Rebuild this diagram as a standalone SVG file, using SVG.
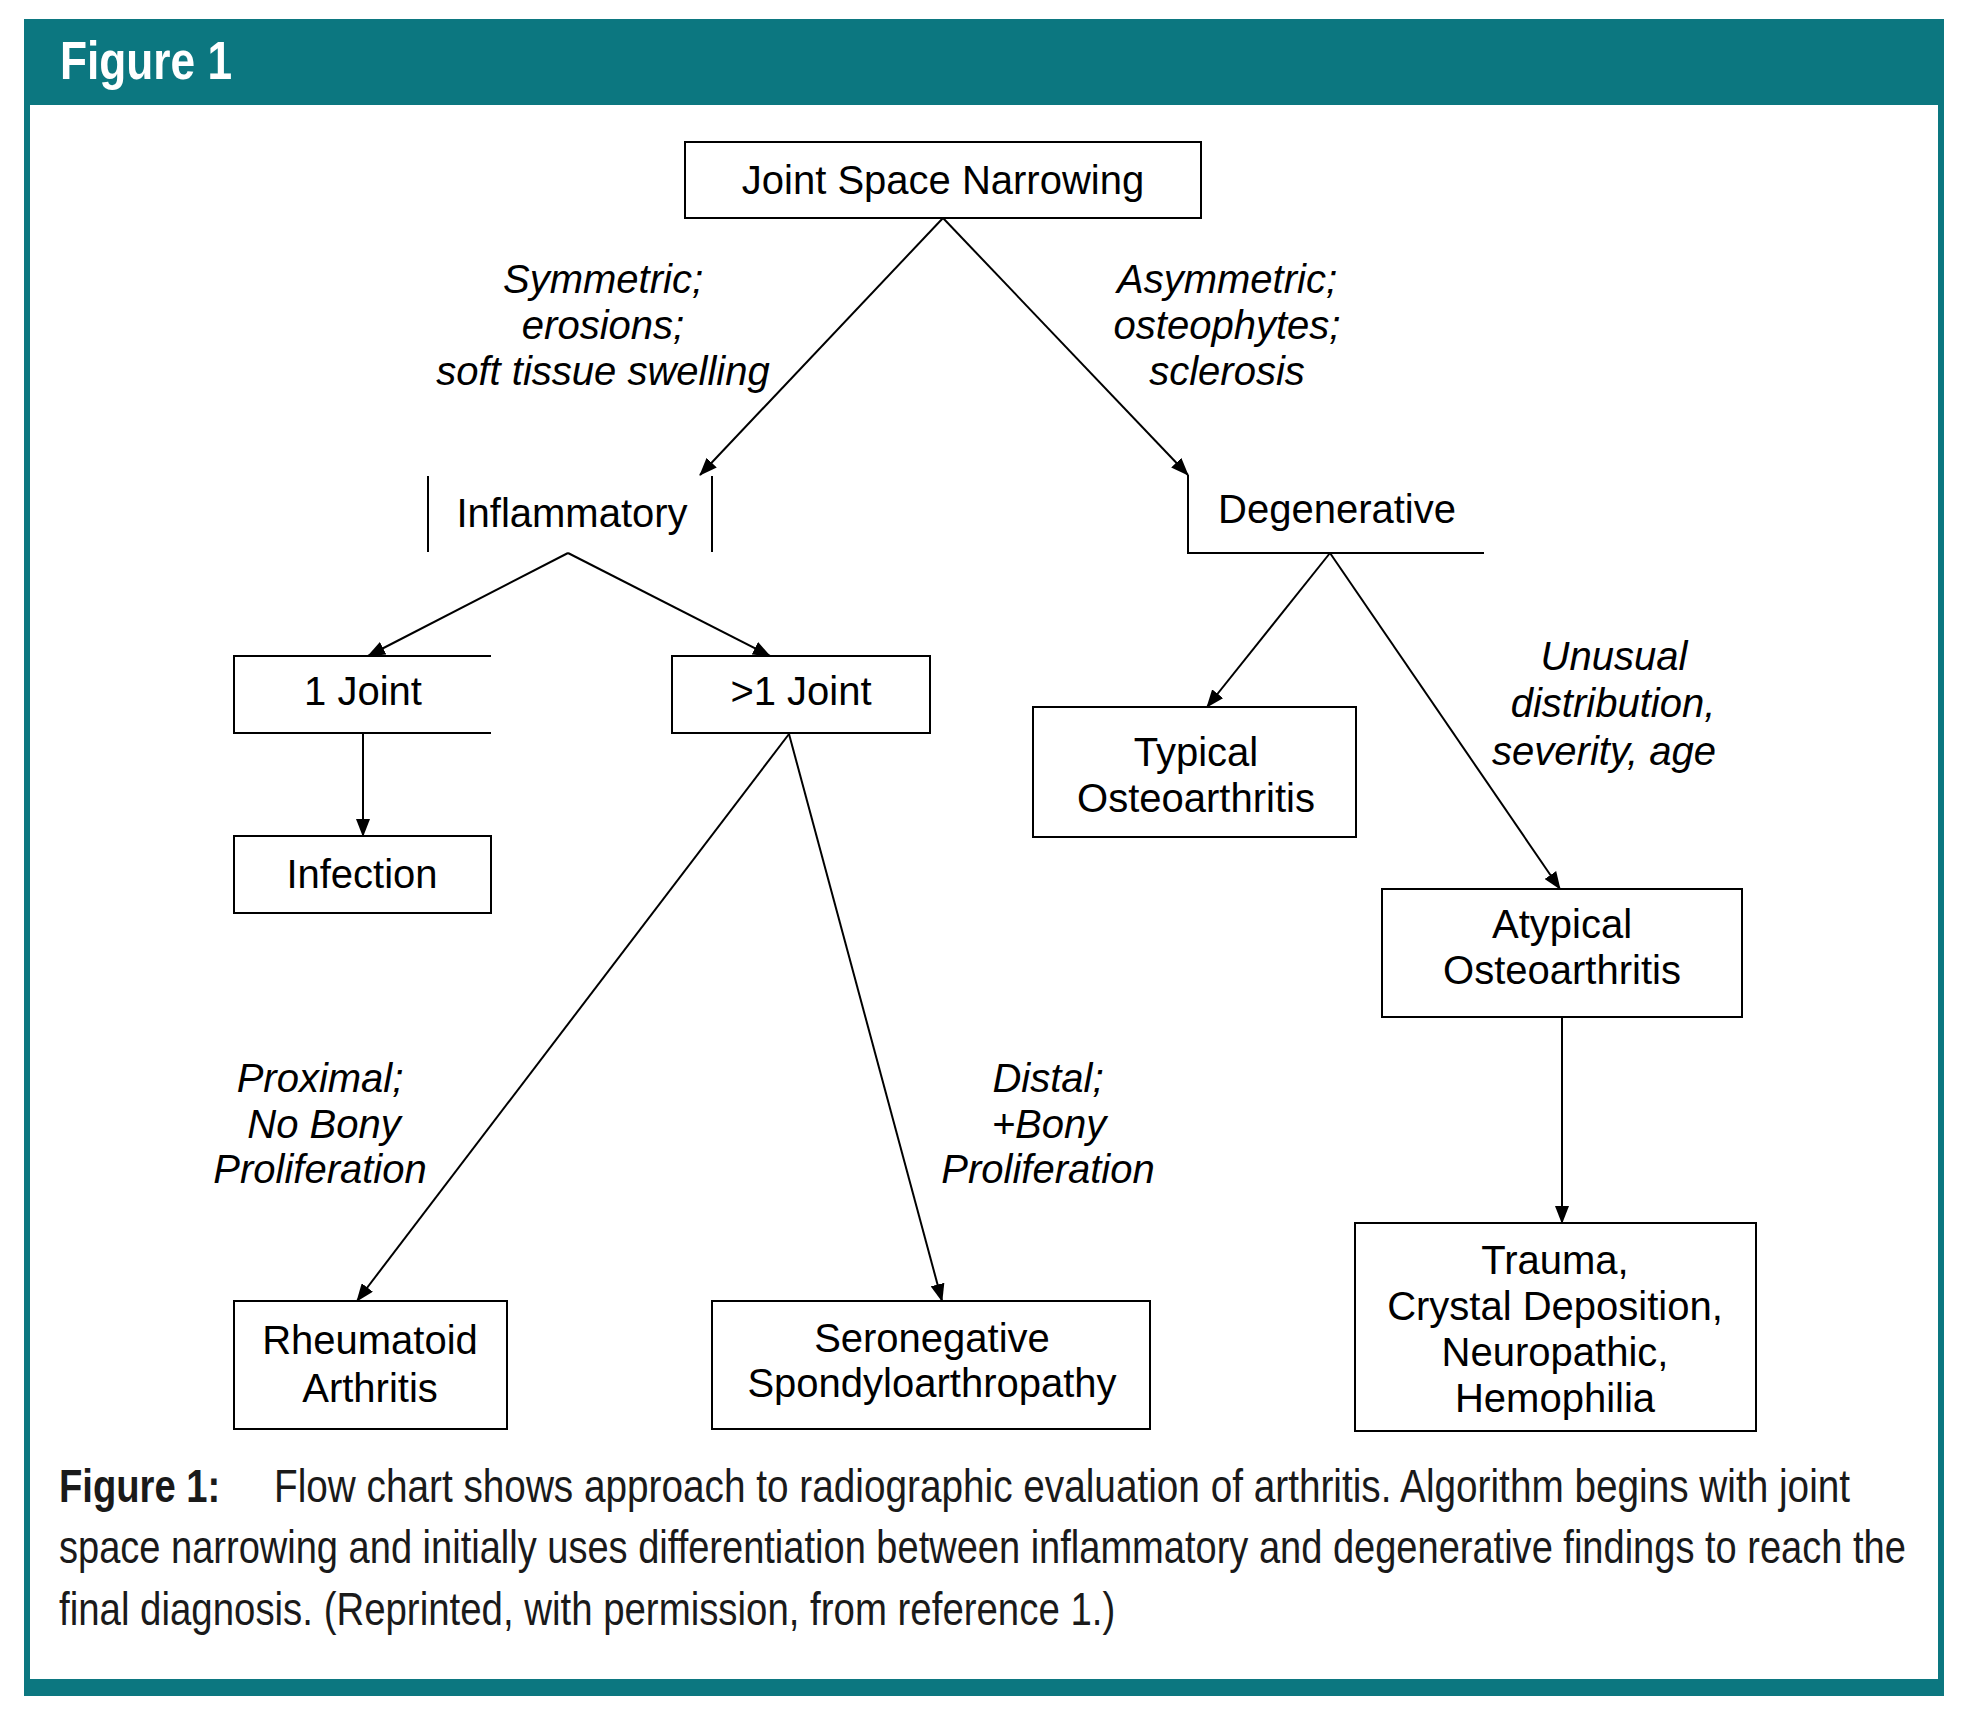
<svg xmlns="http://www.w3.org/2000/svg" width="1974" height="1714" viewBox="0 0 1974 1714">
<style>
.t{font-family:"Liberation Sans",Arial,sans-serif;font-size:40px;fill:#000;text-anchor:middle}
.i{font-family:"Liberation Sans",Arial,sans-serif;font-size:40px;font-style:italic;fill:#000;text-anchor:middle}
.box{fill:#fff;stroke:#000;stroke-width:2}
.open{fill:none;stroke:#000;stroke-width:2}
.cap{font-family:"Liberation Sans",Arial,sans-serif;font-size:46px;fill:#1a1a1a}
.conn line{stroke:#000;stroke-width:2;marker-end:url(#ah)}
</style>
<defs>
<marker id="ah" markerUnits="userSpaceOnUse" markerWidth="18" markerHeight="14" refX="17" refY="7" orient="auto">
<path d="M0,0 L18,7 L0,14 z" fill="#000"/>
</marker>
</defs>
<rect x="0" y="0" width="1974" height="1714" fill="#fff"/>
<g id="frame">
<rect x="24" y="19" width="1920" height="1677" fill="#0c7780"/>
<rect x="30" y="105" width="1908" height="1574" fill="#fff"/>
<text transform="translate(60,79) scale(0.72,1)" font-family="'Liberation Sans',Arial,sans-serif" font-size="54" font-weight="bold" fill="#fff" textLength="239" lengthAdjust="spacingAndGlyphs">Figure 1</text>
</g>
<g class="conn" id="connectors">
<line x1="943" y1="218" x2="700" y2="475"/>
<line x1="943" y1="218" x2="1188" y2="475"/>
<line x1="568" y1="553" x2="368" y2="656"/>
<line x1="568" y1="553" x2="770" y2="656"/>
<line x1="363" y1="733" x2="363" y2="836"/>
<line x1="789" y1="734" x2="357" y2="1301"/>
<line x1="789" y1="734" x2="942" y2="1301"/>
<line x1="1330" y1="553" x2="1207" y2="707"/>
<line x1="1330" y1="553" x2="1560" y2="889"/>
<line x1="1562" y1="1017" x2="1562" y2="1223"/>
</g>
<g id="labels">
<text class="i" x="603" y="293">Symmetric;</text>
<text class="i" x="603" y="339">erosions;</text>
<text class="i" x="603" y="385">soft tissue swelling</text>
<text class="i" x="1227" y="293">Asymmetric;</text>
<text class="i" x="1227" y="339">osteophytes;</text>
<text class="i" x="1227" y="385">sclerosis</text>
<text class="i" x="1614" y="670">Unusual</text>
<text class="i" x="1613" y="717">distribution,</text>
<text class="i" x="1604" y="765">severity, age</text>
<text class="i" x="320" y="1092">Proximal;</text>
<text class="i" x="324" y="1138">No Bony</text>
<text class="i" x="320" y="1183">Proliferation</text>
<text class="i" x="1048" y="1092">Distal;</text>
<text class="i" x="1049" y="1138">+Bony</text>
<text class="i" x="1048" y="1183">Proliferation</text>
</g>
<g id="n-jsn">
<rect class="box" x="685" y="142" width="516" height="76"/>
<text class="t" x="943" y="194">Joint Space Narrowing</text>
</g>
<g id="n-inflammatory">
<line class="open" x1="428" y1="476" x2="428" y2="552"/>
<line class="open" x1="712" y1="476" x2="712" y2="552"/>
<text class="t" x="572" y="527">Inflammatory</text>
</g>
<g id="n-degenerative">
<path class="open" d="M1188,475 V553 H1484"/>
<text class="t" x="1337" y="523">Degenerative</text>
</g>
<g id="n-1joint">
<path class="open" stroke-width="1.5" d="M491,656 H234 V733 H491"/>
<text class="t" x="363" y="705">1 Joint</text>
</g>
<g id="n-gt1joint">
<rect class="box" stroke-width="1.5" x="672" y="656" width="258" height="77"/>
<text class="t" x="801" y="705">&gt;1 Joint</text>
</g>
<g id="n-infection">
<rect class="box" x="234" y="836" width="257" height="77"/>
<text class="t" x="362" y="888">Infection</text>
</g>
<g id="n-typical">
<rect class="box" stroke-width="2.5" x="1033" y="707" width="323" height="130"/>
<text class="t" x="1196" y="766">Typical</text>
<text class="t" x="1196" y="812">Osteoarthritis</text>
</g>
<g id="n-atypical">
<rect class="box" stroke-width="1.5" x="1382" y="889" width="360" height="128"/>
<text class="t" x="1562" y="938">Atypical</text>
<text class="t" x="1562" y="984">Osteoarthritis</text>
</g>
<g id="n-trauma">
<rect class="box" stroke-width="3" x="1355" y="1223" width="401" height="208"/>
<text class="t" x="1555" y="1274">Trauma,</text>
<text class="t" x="1555" y="1320">Crystal Deposition,</text>
<text class="t" x="1555" y="1366">Neuropathic,</text>
<text class="t" x="1555" y="1412">Hemophilia</text>
</g>
<g id="n-ra">
<rect class="box" x="234" y="1301" width="273" height="128"/>
<text class="t" x="370" y="1354">Rheumatoid</text>
<text class="t" x="370" y="1402">Arthritis</text>
</g>
<g id="n-sero">
<rect class="box" x="712" y="1301" width="438" height="128"/>
<text class="t" x="932" y="1352">Seronegative</text>
<text class="t" x="932" y="1397">Spondyloarthropathy</text>
</g>
<g id="caption">
<text class="cap" transform="translate(59,1502) scale(0.72,1)" font-weight="bold" textLength="224" lengthAdjust="spacingAndGlyphs">Figure 1:</text>
<text class="cap" transform="translate(274,1502) scale(0.72,1)" textLength="2189" lengthAdjust="spacingAndGlyphs">Flow chart shows approach to radiographic evaluation of arthritis. Algorithm begins with joint</text>
<text class="cap" transform="translate(59,1563) scale(0.72,1)" textLength="2565" lengthAdjust="spacingAndGlyphs">space narrowing and initially uses differentiation between inflammatory and degenerative findings to reach the</text>
<text class="cap" transform="translate(59,1625) scale(0.72,1)" textLength="1467" lengthAdjust="spacingAndGlyphs">final diagnosis. (Reprinted, with permission, from reference 1.)</text>
</g>
</svg>
